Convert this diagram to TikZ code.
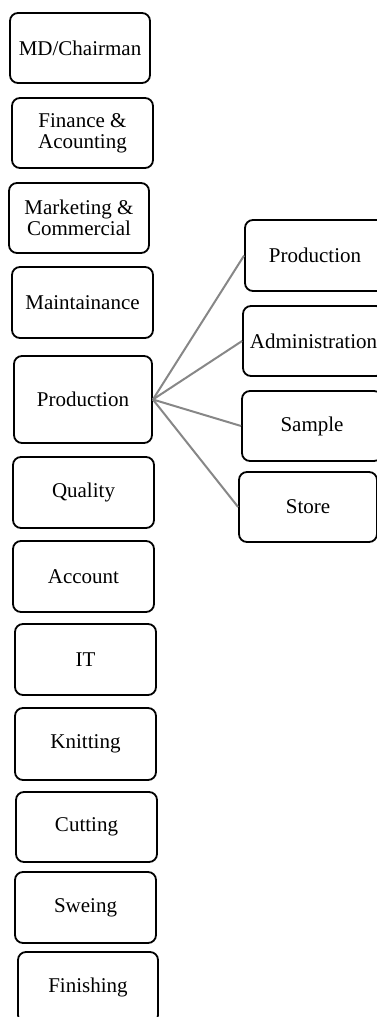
\documentclass[tikz,border=0pt]{standalone}
\usepackage{fontspec}
\setmainfont{Liberation Serif}
\begin{document}
\begin{tikzpicture}[x=1pt,y=-1pt,
  unitbox/.style={draw=black,line width=1.8pt,rounded corners=8pt,
    minimum width=140pt,minimum height=70pt,inner sep=0pt,align=center,
    font=\fontsize{21}{21}\selectfont},
  link/.style={draw=black!47,line width=2pt}]
\useasboundingbox (0,0) rectangle (376,1017);
\node[unitbox] (md) at (80,48) {MD/Chairman};
\node[unitbox,minimum width=141pt] (fin) at (82.5,133) {Finance \&\\Acounting};
\node[unitbox] (mkt) at (79,218) {Marketing \&\\Commercial};
\node[unitbox,minimum width=141pt,minimum height=71pt] (mnt) at (82.5,302.5) {Maintainance};
\node[unitbox,minimum width=138pt,minimum height=87pt] (prod) at (83,399.5) {Production};
\node[unitbox,minimum width=141pt,minimum height=71pt] (qual) at (83.5,492.5) {Quality};
\node[unitbox,minimum width=141pt,minimum height=71pt] (acc) at (83.5,576.5) {Account};
\node[unitbox,minimum width=141pt,minimum height=71pt] (it) at (85.5,659.5) {IT};
\node[unitbox,minimum width=141pt,minimum height=72pt] (knit) at (85.5,744) {Knitting};
\node[unitbox,minimum width=141pt] (cut) at (86.5,827) {Cutting};
\node[unitbox,minimum width=141pt,minimum height=71pt] (sew) at (85.5,907.5) {Sweing};
\node[unitbox,minimum height=71pt] (fini) at (88,987.5) {Finishing};
\node[unitbox,minimum height=71pt] (rprod) at (315,255.5) {Production};
\node[unitbox,minimum width=141pt] (radm) at (313.5,341) {Administration};
\node[unitbox] (rsam) at (312,426) {Sample};
\node[unitbox,minimum width=138pt] (rsto) at (308,507) {Store};
\draw[link] (prod.east) -- (rprod.west);
\draw[link] (prod.east) -- (radm.west);
\draw[link] (prod.east) -- (rsam.west);
\draw[link] (prod.east) -- (rsto.west);
\end{tikzpicture}
\end{document}
